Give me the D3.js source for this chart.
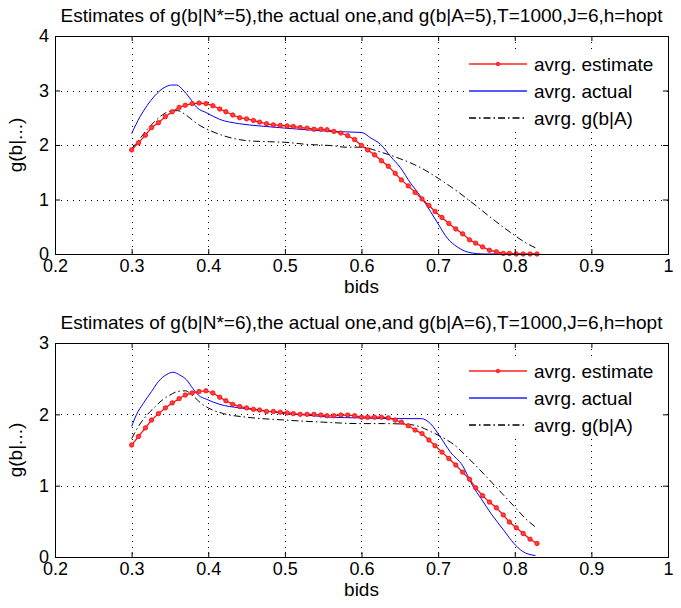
<!DOCTYPE html>
<html>
<head>
<meta charset="utf-8">
<script src="https://cdn.jsdelivr.net/npm/d3@7"></script>
<style>
  body { margin: 0; background: #fff; }
  text { font-family: "Liberation Sans", Arial, sans-serif; }
</style>
</head>
<body>
<svg width="681" height="608"></svg>
<script>
// bid grid of the estimator (61 points)
const bids = [0.300, 0.309, 0.318, 0.326, 0.335, 0.344, 0.353, 0.362, 0.370, 0.379,
  0.388, 0.397, 0.406, 0.415, 0.423, 0.432, 0.441, 0.450, 0.459, 0.467,
  0.476, 0.485, 0.494, 0.503, 0.511, 0.520, 0.529, 0.538, 0.547, 0.555,
  0.564, 0.573, 0.582, 0.591, 0.600, 0.608, 0.617, 0.626, 0.635, 0.644,
  0.652, 0.661, 0.670, 0.679, 0.688, 0.696, 0.705, 0.714, 0.723, 0.732,
  0.741, 0.749, 0.758, 0.767, 0.776, 0.785, 0.793, 0.802, 0.811, 0.820, 0.829];

// panel 1 (N*=5)
const est5 = [1.91, 2.04, 2.18, 2.32, 2.41, 2.52, 2.61, 2.69, 2.73, 2.76,
  2.77, 2.76, 2.72, 2.66, 2.61, 2.55, 2.50, 2.48, 2.45, 2.42,
  2.39, 2.37, 2.36, 2.35, 2.34, 2.32, 2.31, 2.29, 2.29, 2.28,
  2.25, 2.22, 2.17, 2.10, 1.99, 1.91, 1.82, 1.71, 1.61, 1.48,
  1.36, 1.25, 1.13, 1.01, 0.89, 0.78, 0.67, 0.56, 0.46, 0.37,
  0.26, 0.20, 0.13, 0.07, 0.04, 0.01, 0.01, 0.00, 0.00, 0.00, 0.00];
const actX5 = [0.300, 0.311, 0.320, 0.330, 0.341, 0.352, 0.359, 0.367, 0.376, 0.385,
  0.398, 0.415, 0.441, 0.467, 0.500, 0.528, 0.559, 0.600, 0.612, 0.625,
  0.638, 0.651, 0.664, 0.677, 0.690, 0.701, 0.712, 0.725, 0.740, 0.760, 0.829];
const act5 = [2.21, 2.52, 2.72, 2.90, 3.04, 3.10, 3.10, 3.01, 2.86, 2.69,
  2.59, 2.47, 2.39, 2.35, 2.31, 2.28, 2.25, 2.23, 2.13, 2.01,
  1.79, 1.58, 1.30, 1.06, 0.78, 0.53, 0.29, 0.13, 0.03, 0.00, 0.00];
const gaX5 = [0.300, 0.310, 0.320, 0.330, 0.340, 0.350, 0.360, 0.370, 0.380, 0.390,
  0.400, 0.420, 0.450, 0.480, 0.500, 0.530, 0.560, 0.580, 0.600, 0.625,
  0.650, 0.675, 0.700, 0.725, 0.750, 0.775, 0.800, 0.815, 0.829];
const ga5 = [1.93, 2.10, 2.28, 2.43, 2.55, 2.62, 2.63, 2.56, 2.45, 2.35,
  2.28, 2.17, 2.08, 2.06, 2.05, 2.01, 1.99, 1.96, 1.96, 1.87,
  1.75, 1.60, 1.39, 1.15, 0.88, 0.60, 0.34, 0.20, 0.10];

// panel 2 (N*=6)
const est6 = [1.57, 1.69, 1.81, 1.92, 2.01, 2.09, 2.16, 2.22, 2.27, 2.30,
  2.32, 2.33, 2.30, 2.24, 2.19, 2.14, 2.11, 2.09, 2.07, 2.06,
  2.04, 2.04, 2.03, 2.02, 2.01, 2.00, 2.00, 2.00, 1.99, 1.98,
  1.98, 1.99, 1.99, 1.98, 1.96, 1.96, 1.96, 1.96, 1.95, 1.92,
  1.89, 1.84, 1.78, 1.73, 1.64, 1.56, 1.47, 1.38, 1.29, 1.19,
  1.09, 0.97, 0.86, 0.77, 0.69, 0.59, 0.49, 0.41, 0.33, 0.25, 0.19];
const actX6 = [0.300, 0.3065, 0.315, 0.326, 0.335, 0.346, 0.354, 0.363, 0.372, 0.380,
  0.387, 0.398, 0.415, 0.441, 0.467, 0.500, 0.528, 0.559, 0.597, 0.640,
  0.678, 0.690, 0.703, 0.716, 0.732, 0.745, 0.756, 0.769, 0.786, 0.799, 0.810, 0.827];
const act6 = [1.83, 2.00, 2.15, 2.32, 2.46, 2.56, 2.59, 2.55, 2.48, 2.36,
  2.27, 2.21, 2.14, 2.09, 2.06, 2.01, 1.99, 1.96, 1.95, 1.94,
  1.94, 1.87, 1.68, 1.47, 1.28, 1.00, 0.82, 0.61, 0.37, 0.19, 0.08, 0.02];
const gaX6 = [0.300, 0.310, 0.320, 0.330, 0.340, 0.350, 0.360, 0.370, 0.380, 0.390,
  0.400, 0.420, 0.450, 0.500, 0.550, 0.600, 0.630, 0.660, 0.675, 0.690,
  0.705, 0.720, 0.740, 0.760, 0.780, 0.800, 0.815, 0.827];
const ga6 = [1.66, 1.85, 1.99, 2.10, 2.20, 2.27, 2.32, 2.33, 2.26, 2.16,
  2.09, 2.01, 1.96, 1.92, 1.89, 1.87, 1.87, 1.86, 1.83, 1.76,
  1.68, 1.58, 1.38, 1.16, 0.93, 0.70, 0.53, 0.42];

const xTicks = [0.2, 0.3, 0.4, 0.5, 0.6, 0.7, 0.8, 0.9, 1];
const legendNames = ["avrg. estimate", "avrg. actual", "avrg. g(b|A)"];
const titles = [
  "Estimates of g(b|N*=5),the actual one,and g(b|A=5),T=1000,J=6,h=hopt",
  "Estimates of g(b|N*=6),the actual one,and g(b|A=6),T=1000,J=6,h=hopt"
];

const svg = d3.select("svg");
const left = 55, right = 668;
const fs = 19, tickFs = 18;

const panels = [
  { top: 36, bottom: 254, yMax: 4, title: titles[0],
    est: est5, actX: actX5, act: act5, gaX: gaX5, ga: ga5 },
  { top: 343, bottom: 557, yMax: 3, title: titles[1],
    est: est6, actX: actX6, act: act6, gaX: gaX6, ga: ga6 }
];

const dashDot = "7,3,1.5,3";

function drawPanel(p) {
  const x = d3.scaleLinear().domain([0.2, 1]).range([left, right]);
  const y = d3.scaleLinear().domain([0, p.yMax]).range([p.bottom, p.top]);
  const yTicks = d3.range(0, p.yMax + 1);
  const h = p.bottom - p.top, w = right - left;
  const g = svg.append("g");

  // grid
  g.append("g").selectAll("line")
    .data(xTicks.slice(1, -1)).enter().append("line")
    .attr("x1", d => Math.round(x(d)) + 0.5).attr("x2", d => Math.round(x(d)) + 0.5)
    .attr("y1", p.top).attr("y2", p.bottom)
    .attr("stroke", "#000").attr("stroke-dasharray", "1,5");
  g.append("g").selectAll("line")
    .data(yTicks.slice(1, -1)).enter().append("line")
    .attr("x1", left).attr("x2", right)
    .attr("y1", d => Math.round(y(d)) + 0.5).attr("y2", d => Math.round(y(d)) + 0.5)
    .attr("stroke", "#000").attr("stroke-dasharray", "1,5");

  // series
  const smooth = d3.line().x(d => x(d[0])).y(d => y(d[1])).curve(d3.curveMonotoneX);
  g.append("path")
    .datum(p.gaX.map((v, i) => [v, p.ga[i]]))
    .attr("fill", "none").attr("stroke", "#000").attr("stroke-width", 1)
    .attr("stroke-dasharray", dashDot)
    .attr("d", smooth);
  g.append("path")
    .datum(p.actX.map((v, i) => [v, p.act[i]]))
    .attr("fill", "none").attr("stroke", "#0000ff").attr("stroke-width", 1)
    .attr("d", smooth);
  const estData = bids.map((v, i) => [v, p.est[i]]);
  g.append("path")
    .datum(estData)
    .attr("fill", "none").attr("stroke", "#ff0000").attr("stroke-width", 1.2)
    .attr("d", d3.line().x(d => x(d[0])).y(d => y(d[1])));
  g.append("g").selectAll("circle")
    .data(estData).enter().append("circle")
    .attr("cx", d => x(d[0])).attr("cy", d => y(d[1]))
    .attr("r", 2.2)
    .attr("fill", "#ff4040").attr("stroke", "#ff0000").attr("stroke-width", 0.8);

  // legend
  const lx = 466;
  const leg = g.append("g");
  leg.append("rect").attr("x", lx).attr("y", p.top + 14)
    .attr("width", 196).attr("height", 81).attr("fill", "#fff");
  const rows = [
    { color: "#ff2020", dash: null, marker: true },
    { color: "#2020ff", dash: null, marker: false },
    { color: "#000000", dash: dashDot, marker: false }
  ];
  rows.forEach((r, i) => {
    const yy = Math.round(p.top + 28 + i * 26.8);
    const ln = leg.append("line").attr("x1", lx + 3).attr("x2", lx + 61)
      .attr("y1", yy).attr("y2", yy)
      .attr("stroke", r.color).attr("stroke-width", 1.3);
    if (r.dash) ln.attr("stroke-dasharray", r.dash);
    if (r.marker) {
      leg.append("circle").attr("cx", lx + 32).attr("cy", yy).attr("r", 1.8)
        .attr("fill", "#ff4040").attr("stroke", "#ff0000").attr("stroke-width", 0.8);
    }
    leg.append("text").attr("x", lx + 68).attr("y", yy + 7)
      .attr("font-size", fs).text(legendNames[i]);
  });

  // axes with inward ticks
  const fmtX = d => d === 1 ? "1" : d.toFixed(1);
  const xb = g.append("g").attr("transform", `translate(0,${p.bottom})`)
    .call(d3.axisBottom(x).tickValues(xTicks).tickFormat(fmtX)
      .tickSizeInner(-5).tickSizeOuter(0).tickPadding(5));
  const xt = g.append("g").attr("transform", `translate(0,${p.top})`)
    .call(d3.axisTop(x).tickValues(xTicks).tickFormat("")
      .tickSizeInner(-5).tickSizeOuter(0));
  const yl = g.append("g").attr("transform", `translate(${left},0)`)
    .call(d3.axisLeft(y).tickValues(yTicks).tickFormat(d3.format("d"))
      .tickSizeInner(-5).tickSizeOuter(0).tickPadding(6));
  const yr = g.append("g").attr("transform", `translate(${right},0)`)
    .call(d3.axisRight(y).tickValues(yTicks).tickFormat("")
      .tickSizeInner(-5).tickSizeOuter(0));
  [xb, xt, yl, yr].forEach(a => {
    a.select(".domain").remove();
    a.selectAll("text").attr("font-size", tickFs).attr("fill", "#000")
      .style("font-family", "'Liberation Sans', Arial, sans-serif");
    a.selectAll("line").attr("stroke", "#000");
  });

  g.append("rect").attr("x", left + 0.5).attr("y", p.top + 0.5)
    .attr("width", w).attr("height", h)
    .attr("fill", "none").attr("stroke", "#000").attr("stroke-width", 1);

  // labels
  g.append("text").attr("x", (left + right) / 2).attr("y", p.top - 14)
    .attr("text-anchor", "middle").attr("font-size", fs).text(p.title);
  g.append("text").attr("x", (left + right) / 2).attr("y", p.bottom + 39)
    .attr("text-anchor", "middle").attr("font-size", fs).text("bids");
  g.append("text")
    .attr("transform", `translate(22,${(p.top + p.bottom) / 2}) rotate(-90)`)
    .attr("text-anchor", "middle").attr("font-size", fs).text("g(b|...)");
}

panels.forEach(drawPanel);
</script>
</body>
</html>
